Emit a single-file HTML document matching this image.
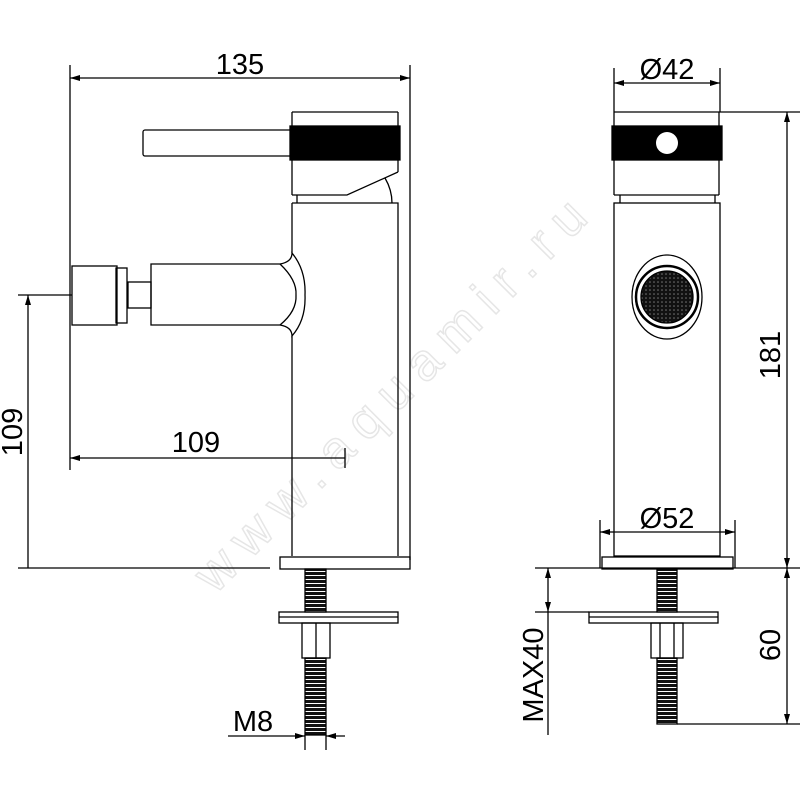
<!DOCTYPE html>
<html><head><meta charset="utf-8"><style>html,body{margin:0;padding:0;background:#fff}svg{display:block}</style></head>
<body>
<svg width="800" height="800" viewBox="0 0 800 800" xmlns="http://www.w3.org/2000/svg" font-family="Liberation Sans, sans-serif">
<defs>
<marker id="a" viewBox="0 0 10 6" refX="10" refY="3" markerWidth="10" markerHeight="6" orient="auto-start-reverse" markerUnits="userSpaceOnUse"><path d="M0,0 L10,3 L0,6z" fill="#000"/></marker>
<pattern id="mesh" width="4" height="4" patternUnits="userSpaceOnUse"><rect width="4" height="4" fill="#111"/><circle cx="2" cy="2" r="0.8" fill="#777"/></pattern>
<pattern id="thr" width="4" height="4" patternUnits="userSpaceOnUse"><rect width="4" height="4" fill="#fff"/><rect width="4" height="3" fill="#111"/></pattern>
</defs>
<text x="215" y="595" font-size="52" fill="none" stroke="#e6e6e6" stroke-width="1.5" textLength="530" lengthAdjust="spacing" transform="rotate(-45 215 595)">www.aquamir.ru</text>
<g stroke="#000" stroke-width="1.3" fill="none">
<line x1="70" y1="65" x2="70" y2="470"/>
<line x1="410" y1="65" x2="410" y2="560"/>
<line x1="70" y1="78" x2="410" y2="78" marker-start="url(#a)" marker-end="url(#a)"/>
<rect x="143" y="130" width="149" height="26" rx="2"/>
<line x1="292" y1="112" x2="398" y2="112"/>
<line x1="292" y1="112" x2="292" y2="195"/>
<line x1="398" y1="112" x2="398" y2="172"/>
<rect x="290" y="126" width="110" height="34" fill="#000"/>
<path d="M292,195 L347,195 L398,172"/>
<path d="M385,178 Q392,190 392,203"/>
<line x1="297" y1="195" x2="297" y2="203"/>
<path d="M292,203 L398,203 L398,556"/>
<line x1="292" y1="203" x2="292" y2="253"/>
<line x1="292" y1="336" x2="292" y2="556"/>
<path d="M151,264 L280,264 Q292,262 292,253 Q306,270 305,295 Q306,320 292,336 Q292,327 280,325 L151,325 Z"/>
<path d="M280,264 Q297,280 296,295 Q297,311 280,325"/>
<rect x="128" y="282" width="23" height="26"/>
<rect x="116" y="268" width="11" height="55"/>
<rect x="72" y="266" width="45" height="59"/>
<line x1="18" y1="295" x2="72" y2="295"/>
<line x1="28" y1="295" x2="28" y2="568" marker-start="url(#a)"/>
<line x1="70" y1="458" x2="345" y2="458" marker-start="url(#a)"/>
<line x1="345" y1="448" x2="345" y2="468"/>
<line x1="18" y1="568" x2="270" y2="568"/>
<rect x="280" y="557" width="130" height="12"/>
<rect x="305" y="569" width="21" height="43" fill="url(#thr)"/>
<rect x="279" y="612" width="119" height="11"/>
<line x1="279" y1="617" x2="398" y2="617"/>
<rect x="302" y="623" width="28" height="35"/>
<line x1="316" y1="623" x2="316" y2="658"/>
<rect x="305" y="658" width="21" height="77" fill="url(#thr)"/>
<line x1="228" y1="736" x2="305" y2="736" marker-end="url(#a)"/>
<line x1="345" y1="736" x2="326" y2="736" marker-end="url(#a)"/>
<line x1="305" y1="735" x2="305" y2="750"/>
<line x1="326" y1="735" x2="326" y2="750"/>

<line x1="614" y1="68" x2="614" y2="112"/>
<line x1="720" y1="68" x2="720" y2="112"/>
<line x1="614" y1="83" x2="720" y2="83" marker-start="url(#a)" marker-end="url(#a)"/>
<line x1="614" y1="112" x2="800" y2="112"/>
<line x1="787" y1="112" x2="787" y2="568" marker-start="url(#a)" marker-end="url(#a)"/>
<line x1="614" y1="112" x2="614" y2="195"/>
<line x1="719" y1="112" x2="719" y2="195"/>
<rect x="612" y="126" width="110" height="34" fill="#000"/>
<line x1="614" y1="195" x2="719" y2="195"/>
<line x1="620" y1="195" x2="620" y2="203"/>
<line x1="715" y1="195" x2="715" y2="203"/>
<rect x="614" y="203" width="106" height="353"/>
<ellipse cx="667" cy="297" rx="35" ry="42"/>
<circle cx="667" cy="297" r="31" stroke-width="2.5"/>
<circle cx="667" cy="297" r="26" fill="url(#mesh)"/>
<line x1="600" y1="520" x2="600" y2="568"/>
<line x1="735" y1="520" x2="735" y2="568"/>
<line x1="600" y1="532" x2="614" y2="532" marker-start="url(#a)"/>
<line x1="614" y1="532" x2="720" y2="532"/>
<line x1="720" y1="532" x2="735" y2="532" marker-end="url(#a)"/>
<rect x="602" y="557" width="131" height="12"/>
<line x1="535" y1="568" x2="800" y2="568"/>
<rect x="657" y="569" width="20" height="43" fill="url(#thr)"/>
<rect x="589" y="612" width="129" height="11"/>
<line x1="589" y1="617" x2="718" y2="617"/>
<rect x="651" y="623" width="32" height="35"/>
<line x1="660" y1="623" x2="660" y2="658"/>
<line x1="674" y1="623" x2="674" y2="658"/>
<rect x="657" y="658" width="20" height="66" fill="url(#thr)"/>
<line x1="677" y1="724" x2="800" y2="724"/>
<line x1="787" y1="568" x2="787" y2="724" marker-start="url(#a)" marker-end="url(#a)"/>
<line x1="535" y1="612" x2="589" y2="612"/>
<line x1="548" y1="568" x2="548" y2="612" marker-start="url(#a)" marker-end="url(#a)"/>
<line x1="548" y1="612" x2="548" y2="735"/>
</g>
<circle cx="667" cy="143" r="11" fill="#fff"/>
<g font-size="29" fill="#000">
<text x="240" y="74" text-anchor="middle">135</text>
<text x="196" y="452" text-anchor="middle">109</text>
<text x="12" y="432" text-anchor="middle" transform="rotate(-90 12 432)" dy="10">109</text>
<text x="253" y="731" text-anchor="middle">M8</text>
<text x="667" y="79" text-anchor="middle">Ø42</text>
<text x="667" y="528" text-anchor="middle">Ø52</text>
<text x="770" y="355" text-anchor="middle" transform="rotate(-90 770 355)" dy="10">181</text>
<text x="770" y="645" text-anchor="middle" transform="rotate(-90 770 645)" dy="10">60</text>
<text x="533" y="675" text-anchor="middle" transform="rotate(-90 533 675)" dy="10">MAX40</text>
</g>
</svg>
</body></html>
